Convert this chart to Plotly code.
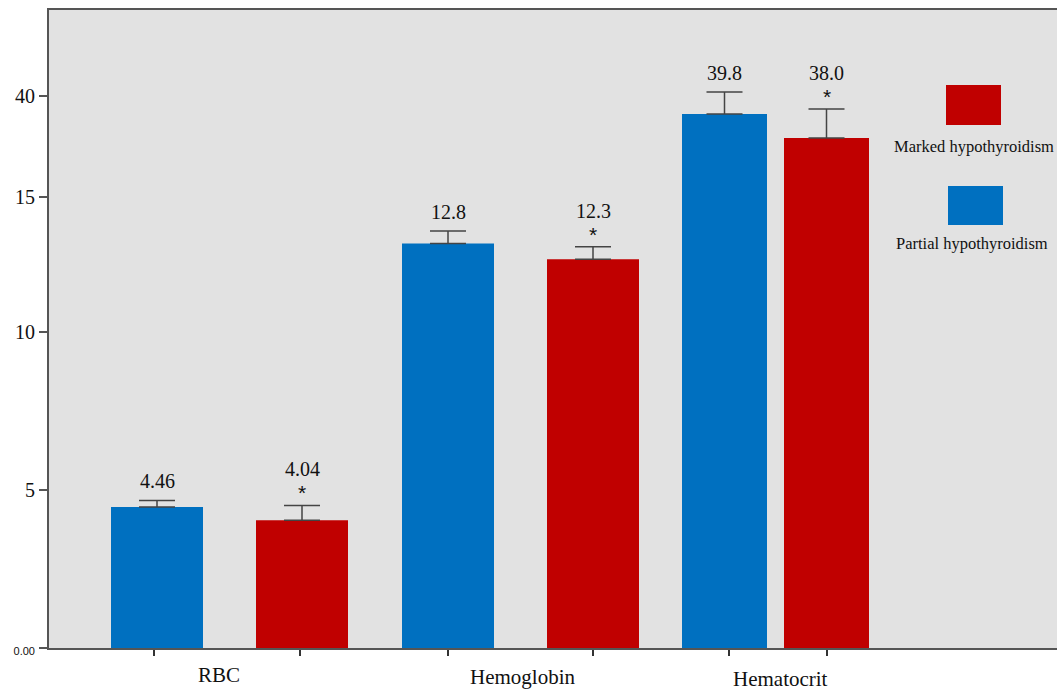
import plotly.graph_objects as go

# ---- data ----
categories = ["RBC", "Hemoglobin", "Hematocrit"]
partial_vals = [4.46, 12.8, 39.8]
marked_vals = [4.04, 12.3, 38.0]
partial_sd = [0.21, 0.40, 1.64]
marked_sd = [0.47, 0.40, 2.16]
partial_labels = ["4.46", "12.8", "39.8"]
marked_labels = ["4.04", "12.3", "38.0"]
series_names = ["Partial hypothyroidism", "Marked hypothyroidism"]
tick_text = ["0.00", "5", "10", "15", "40"]

# ---- layout ----
# The original chart uses a broken scale: RBC/Hemoglobin on one scale,
# Hematocrit on a compressed scale; tick labels sit where the original printed them.
tick_pos = [0, 158, 316, 451, 552]        # display-axis positions of the printed tick labels
range_low = [0, 638 / 31.6]               # scale for RBC & Hemoglobin
range_high = [0, 638 / 13.42]             # scale for Hematocrit
partial_x = [157, 448, 724.5]
marked_x = [302, 593, 826.5]
bar_w = [92, 92, 85]
axis_of = ["y2", "y2", "y3"]
cat_label_x = [219, 522, 780]
cat_label_dy = [27, 29, 31]

BLUE = "#0070C0"
RED = "#C00000"
serif = "Liberation Serif"

fig = go.Figure()
err_style = dict(type="data", symmetric=False, color="#444444", thickness=1.5, width=18)

# invisible anchor trace for the display axis
fig.add_trace(go.Scatter(x=[None], y=[None], showlegend=False, hoverinfo="skip"))

groups = [([0, 1], "y2"), ([2], "y3")]
for idx, ax in groups:
    fig.add_trace(go.Bar(x=[partial_x[i] for i in idx], y=[partial_vals[i] for i in idx],
                         width=[bar_w[i] for i in idx], yaxis=ax,
                         marker=dict(color=BLUE, line=dict(width=0)), name=series_names[0],
                         error_y=dict(array=[partial_sd[i] for i in idx],
                                      arrayminus=[0] * len(idx), **err_style)))
    fig.add_trace(go.Bar(x=[marked_x[i] for i in idx], y=[marked_vals[i] for i in idx],
                         width=[bar_w[i] for i in idx], yaxis=ax,
                         marker=dict(color=RED, line=dict(width=0)), name=series_names[1],
                         error_y=dict(array=[marked_sd[i] for i in idx],
                                      arrayminus=[0] * len(idx), **err_style)))

annotations = []
for i in range(3):
    yr = axis_of[i]
    annotations.append(dict(x=partial_x[i], y=partial_vals[i] + partial_sd[i], xref="x", yref=yr,
                            text=partial_labels[i], showarrow=False, yanchor="bottom", yshift=6,
                            font=dict(family=serif, size=20, color="#111")))
    annotations.append(dict(x=marked_x[i], y=marked_vals[i] + marked_sd[i], xref="x", yref=yr,
                            text=marked_labels[i], showarrow=False, yanchor="bottom", yshift=23,
                            font=dict(family=serif, size=20, color="#111")))
    annotations.append(dict(x=marked_x[i], y=marked_vals[i] + marked_sd[i], xref="x", yref=yr,
                            text="*", showarrow=False, yanchor="bottom", yshift=-1,
                            font=dict(family="Liberation Sans", size=21, color="#111")))
    annotations.append(dict(x=cat_label_x[i], y=0, xref="x", yref="y", text=categories[i],
                            showarrow=False, yanchor="middle", yshift=-cat_label_dy[i],
                            font=dict(family=serif, size=21, color="#111")))

# legend drawn as shapes + text
shapes = [
    dict(type="rect", xref="x", yref="y", x0=946, x1=1001, y0=648 - 125, y1=648 - 85,
         fillcolor=RED, line=dict(width=0)),
    dict(type="rect", xref="x", yref="y", x0=948, x1=1003, y0=648 - 225, y1=648 - 186,
         fillcolor=BLUE, line=dict(width=0)),
]
annotations.append(dict(x=974, y=648 - 146, text=series_names[1], showarrow=False,
                        font=dict(family=serif, size=16.5, color="#111")))
annotations.append(dict(x=972, y=648 - 243, text=series_names[0], showarrow=False,
                        font=dict(family=serif, size=16.5, color="#111")))

ticktext = ['<span style="font-family:Liberation Sans;font-size:11px">0.00</span>'] + tick_text[1:]

fig.update_layout(
    width=1057, height=690,
    margin=dict(l=49, r=0, t=10, b=42),
    paper_bgcolor="white", plot_bgcolor="#E2E2E2",
    showlegend=False, barmode="overlay",
    annotations=annotations, shapes=shapes,
    xaxis=dict(range=[49, 1057], showgrid=False, zeroline=False, showline=True,
               linecolor="#555", linewidth=2, mirror=True,
               tickmode="array", tickvals=[154, 300, 448, 593, 729, 827], ticktext=[""] * 6,
               ticks="outside", ticklen=6, tickcolor="#333", tickwidth=1.5),
    yaxis=dict(range=[0, 638], showgrid=False, zeroline=False, showline=True,
               linecolor="#555", linewidth=2,
               tickmode="array", tickvals=tick_pos, ticktext=ticktext,
               ticks="outside", ticklen=8, tickcolor="#555", tickwidth=1.5,
               tickfont=dict(family=serif, size=20, color="#111")),
    yaxis2=dict(range=range_low, overlaying="y", visible=False),
    yaxis3=dict(range=range_high, overlaying="y", visible=False),
)

fig.write_html("out.html", config={"displayModeBar": False},
               post_script="document.body.style.margin='0';document.body.style.overflow='hidden';")
